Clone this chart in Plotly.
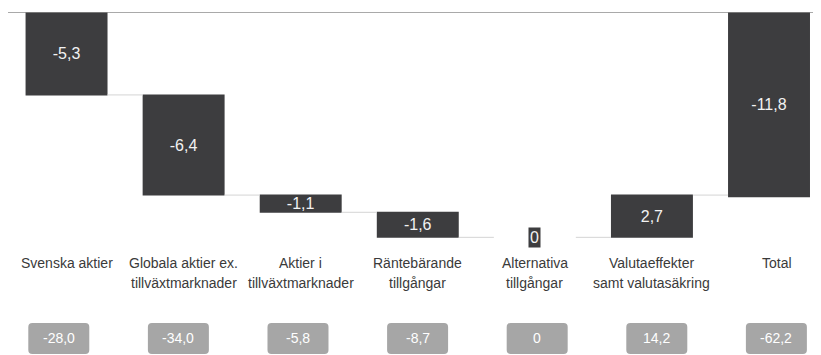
import plotly.graph_objects as go

categories = ["Svenska aktier", "Globala aktier ex.<br>tillväxtmarknader", "Aktier i<br>tillväxtmarknader",
              "Räntebärande<br>tillgångar", "Alternativa<br>tillgångar", "Valutaeffekter<br>samt valutasäkring", "Total"]
changes = [-5.3, -6.4, -1.1, -1.6, 0.0, 2.7, -11.8]
measures = ["relative", "relative", "relative", "relative", "relative", "relative", "absolute"]
amounts = [-28.0, -34.0, -5.8, -8.7, 0.0, 14.2, -62.2]


def fmt(v):
    return "0" if v == 0 else f"{v:.1f}".replace(".", ",")


BAR = "#3d3d3f"
FONT = "Liberation Sans, Arial, sans-serif"

bar_text = [fmt(v) if v != 0 else "" for v in changes]

fig = go.Figure()
fig.add_trace(go.Waterfall(
    x=list(range(len(categories))),
    y=changes,
    measure=measures,
    text=bar_text,
    textposition="inside",
    insidetextanchor="middle",
    textfont=dict(color="#f2f2f2", size=16, family=FONT),
    width=0.70,
    decreasing=dict(marker=dict(color=BAR, line=dict(width=0))),
    increasing=dict(marker=dict(color=BAR, line=dict(width=0))),
    totals=dict(marker=dict(color=BAR, line=dict(width=0))),
    connector=dict(mode="between", line=dict(color="#d4d4d4", width=1)),
    hoverinfo="skip",
))

annotations = []
shapes = []

# top zero line
shapes.append(dict(type="line", xref="paper", yref="y", x0=0, x1=1, y0=0, y1=0,
                   line=dict(color="#8c8c8c", width=1.5)))

# zero-bar label
cum = 0.0
for i, (v, m) in enumerate(zip(changes, measures)):
    cum = v if m == "absolute" else cum + v
    if v == 0:
        annotations.append(dict(x=i, y=cum, xref="x", yref="y", text=fmt(v), showarrow=False,
                                bgcolor=BAR, borderpad=1,
                                font=dict(color="#f2f2f2", size=16, family=FONT),
                                xanchor="center", yanchor="middle"))

# category labels (one annotation per line for 20px line spacing)
for i, c in enumerate(categories):
    for k, line in enumerate(c.split("<br>")):
        annotations.append(dict(x=i, y=-0.012, xref="x", yref="paper", text=line, showarrow=False,
                                xanchor="center", yanchor="top", align="center",
                                xshift=8 if i == len(categories) - 1 else 0,
                                yshift=-20 * k,
                                font=dict(color="#3a3a3a", size=14, family=FONT)))

# amount boxes (rounded rectangles) on secondary x axis
w, h, r = 30.5, 15.5, 4
path = (f"M {-w + r},{-h} L {w - r},{-h} Q {w},{-h} {w},{-h + r} L {w},{h - r} Q {w},{h} {w - r},{h} "
        f"L {-w + r},{h} Q {-w},{h} {-w},{h - r} L {-w},{-h + r} Q {-w},{-h} {-w + r},{-h} Z")
box_y = -0.3718
for i, a in enumerate(amounts):
    shapes.append(dict(type="path", xref="x2", yref="paper", xsizemode="pixel", ysizemode="pixel",
                       xanchor=i, yanchor=box_y, path=path, fillcolor="#a6a6a6",
                       line=dict(width=0), layer="above"))
    annotations.append(dict(x=i, y=box_y, xref="x2", yref="paper", text=fmt(a), showarrow=False,
                            xanchor="center", yanchor="middle",
                            font=dict(color="#ffffff", size=14, family=FONT)))

# page body has an 8px default margin, so the figure is sized to fit the window
fig.update_layout(
    width=813, height=347,
    margin=dict(l=0, r=0, t=4, b=105),
    paper_bgcolor="white", plot_bgcolor="white",
    showlegend=False,
    uniformtext=dict(minsize=16, mode="show"),
    xaxis=dict(range=[-0.5, 6.444], visible=False, fixedrange=True),
    xaxis2=dict(range=[-0.4247, 6.373], overlaying="x", visible=False, fixedrange=True),
    yaxis=dict(range=[-15.21, 0], visible=False, fixedrange=True),
    shapes=shapes,
    annotations=annotations,
    font=dict(family=FONT),
)

fig.write_html("out.html")
